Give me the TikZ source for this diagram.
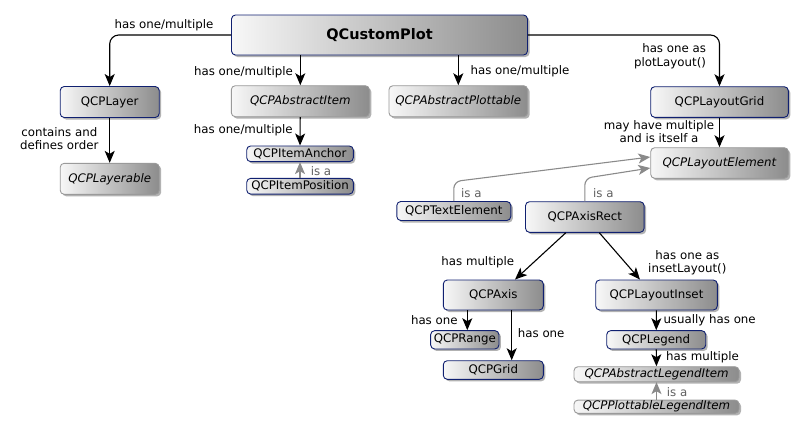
\documentclass[tikz,border=0pt]{standalone}
\usepackage{fontspec}
\setmainfont{DejaVu Sans}
\usetikzlibrary{arrows.meta,shadows}
\definecolor{navy}{HTML}{102070}
\definecolor{absborder}{HTML}{9A9A9A}
\definecolor{isagray}{HTML}{8A8A8A}
\definecolor{isatext}{HTML}{606060}
\begin{document}
\begin{tikzpicture}[x=1pt,y=-1pt,
  cls/.style={draw=navy, line width=0.9pt, rounded corners=4pt,
    left color=black!3, right color=black!45, inner sep=0pt,
    drop shadow={shadow xshift=2pt, shadow yshift=-2pt, fill=black, opacity=0.3},
    font=\fontsize{11.8}{14}\selectfont},
  abs/.style={cls, draw=absborder, font=\fontsize{11.8}{14}\selectfont\itshape},
  lbl/.style={font=\fontsize{11.8}{13.5}\selectfont, inner sep=0pt, align=center},
  isalbl/.style={lbl, text=isatext},
  arr/.style={draw=black, line width=1.1pt, -{Stealth[length=12pt,width=10pt,inset=3pt]}},
  garr/.style={draw=isagray, line width=1.1pt, -{Stealth[length=12pt,width=10pt,inset=3pt]}}
]
\useasboundingbox (0,0) rectangle (804,432);

% nodes
\node[cls, minimum width=296pt, minimum height=40pt, font=\fontsize{14.5}{17}\selectfont\bfseries] (qcp) at (379.5,35) {QCustomPlot};
\node[cls, minimum width=99pt, minimum height=31pt] (layer) at (109.7,102) {QCPLayer};
\node[abs, minimum width=138pt, minimum height=31pt] (aitem) at (300.3,101.2) {QCPAbstractItem};
\node[abs, minimum width=138.7pt, minimum height=31pt] (aplot) at (458.3,101.2) {QCPAbstractPlottable};
\node[cls, minimum width=137.6pt, minimum height=30.6pt] (grid) at (719.5,102) {QCPLayoutGrid};
\node[abs, minimum width=99pt, minimum height=31pt] (layerable) at (109.7,178.8) {QCPLayerable};
\node[cls, minimum width=106.6pt, minimum height=15.7pt] (anchor) at (300,153.8) {QCPItemAnchor};
\node[cls, minimum width=106.6pt, minimum height=15.7pt] (position) at (300,186.2) {QCPItemPosition};
\node[abs, minimum width=137.6pt, minimum height=30.6pt] (lelem) at (719.5,163) {QCPLayoutElement};
\node[cls, minimum width=114pt, minimum height=19pt] (textel) at (453.8,211) {QCPTextElement};
\node[cls, minimum width=118.6pt, minimum height=30.6pt] (axrect) at (584.8,217) {QCPAxisRect};
\node[cls, minimum width=100pt, minimum height=30pt] (axis) at (493.3,295) {QCPAxis};
\node[cls, minimum width=121.6pt, minimum height=30pt] (inset) at (656.5,295) {QCPLayoutInset};
\node[cls, minimum width=68.3pt, minimum height=18.3pt] (range) at (464.8,339.8) {QCPRange};
\node[cls, minimum width=100pt, minimum height=18.6pt] (qgrid) at (493.3,370) {QCPGrid};
\node[cls, minimum width=99pt, minimum height=18.3pt] (legend) at (656.2,339.8) {QCPLegend};
\node[abs, minimum width=165pt, minimum height=15pt] (ali) at (656.5,374.2) {QCPAbstractLegendItem};
\node[abs, minimum width=165pt, minimum height=13.3pt] (pli) at (656.5,406.7) {QCPPlottableLegendItem};

% helper coordinates
\coordinate (r1) at ([xshift=2.5pt]range.north);
\coordinate (g1) at ([xshift=18.4pt]qgrid.north);
\coordinate (te1) at ([yshift=19.5pt]textel.north);
\coordinate (ar1) at ([yshift=23pt]axrect.north);

% connectors
\draw[arr, rounded corners=9pt] (qcp.west) -| (layer.north);
\draw[arr] (aitem.north |- qcp.south) -- (aitem.north);
\draw[arr] (aplot.north |- qcp.south) -- (aplot.north);
\draw[arr, rounded corners=9pt] (qcp.east) -| (grid.north);
\draw[arr] (layer) -- (layerable);
\draw[arr] (aitem) -- (anchor);
\draw[garr] (position) -- (anchor);
\draw[arr] (grid) -- (lelem);
\draw[garr, rounded corners=7pt] (textel.north) -- (te1) -- ([yshift=6pt]lelem.west);
\draw[garr, rounded corners=7pt] (axrect.north) -- (ar1) -- ([yshift=-5pt]lelem.west);
\draw[arr] ([xshift=-19pt]axrect.south) -- ([xshift=21.7pt]axis.north);
\draw[arr] ([xshift=14.5pt]axrect.south) -- ([xshift=-16.5pt]inset.north);
\draw[arr] (r1 |- axis.south) -- (r1);
\draw[arr] (g1 |- axis.south) -- (g1);
\draw[arr] (inset) -- (legend);
\draw[arr] (legend) -- (ali);
\draw[garr] (pli) -- (ali);

% labels
\node[lbl] (l1) at (164,25.7) {has one/multiple};
\node[lbl] (l2) at (243.5,72.7) {has one/multiple};
\node[lbl] (l3) at (520,71.7) {has one/multiple};
\node[lbl, align=right] (l4) at (670,56) {has one as\\plotLayout()};
\node[lbl] (l5) at (59.3,138.7) {contains and\\defines order};
\node[lbl] (l6) at (243.3,130.7) {has one/multiple};
\node[isalbl] (l7) at (321,170.7) {is a};
\node[lbl] (l8) at (659,131.5) {may have multiple\\and is itself a};
\node[isalbl] (l9) at (471.3,193.3) {is a};
\node[isalbl] (l10) at (603.3,193.3) {is a};
\node[lbl] (l11) at (477.8,262.3) {has multiple};
\node[lbl] (l12) at (687.3,262.5) {has one as\\insetLayout()};
\node[lbl] (l13) at (434.3,320) {has one};
\node[lbl] (l14) at (541.2,333.3) {has one};
\node[lbl, anchor=west] (l15) at (663.3,320.7) {usually has one};
\node[lbl, anchor=west] (l16) at (666,357.3) {has multiple};
\node[isalbl, anchor=west] (l17) at (666.7,391.7) {is a};
\end{tikzpicture}
\end{document}
